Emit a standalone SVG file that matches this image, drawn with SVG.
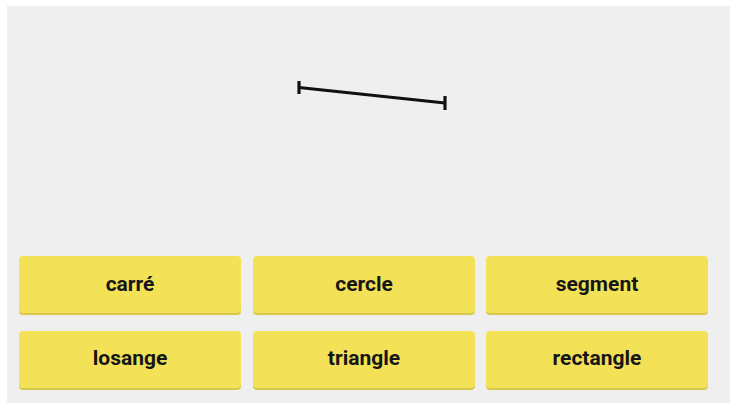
<svg xmlns="http://www.w3.org/2000/svg" width="736" height="403" viewBox="0 0 736 403">
  <defs>
    <style>
      .card rect.bg { fill: #f3e257; }
      .card rect.sh { fill: #d9c94a; }
      .card text { font-family: Roboto, "Liberation Sans", sans-serif; font-weight: bold; font-size: 21px; fill: #161616; text-anchor: middle; }
      .seg { stroke: #111111; stroke-width: 3.2; stroke-linecap: butt; fill: none; }
    </style>
  </defs>
  <rect x="0" y="0" width="736" height="403" fill="#ffffff"/>
  <rect x="7" y="6" width="723" height="397" fill="#efefef"/>

  <g id="segment-shape">
    <line class="seg" x1="299" y1="87.5" x2="445" y2="103"/>
    <line class="seg" x1="299" y1="81" x2="299" y2="94"/>
    <line class="seg" x1="445" y1="96" x2="445" y2="110"/>
  </g>

  <g id="card-carre" class="card">
    <rect class="sh" x="19" y="258" width="222" height="57" rx="4"/>
    <rect class="bg" x="19" y="256" width="222" height="57" rx="4"/>
    <text x="130" y="291">carré</text>
  </g>
  <g id="card-cercle" class="card">
    <rect class="sh" x="253" y="258" width="222" height="57" rx="4"/>
    <rect class="bg" x="253" y="256" width="222" height="57" rx="4"/>
    <text x="364" y="291">cercle</text>
  </g>
  <g id="card-segment" class="card">
    <rect class="sh" x="486" y="258" width="222" height="57" rx="4"/>
    <rect class="bg" x="486" y="256" width="222" height="57" rx="4"/>
    <text x="597" y="291">segment</text>
  </g>
  <g id="card-losange" class="card">
    <rect class="sh" x="19" y="333" width="222" height="57" rx="4"/>
    <rect class="bg" x="19" y="331" width="222" height="57" rx="4"/>
    <text x="130" y="365">losange</text>
  </g>
  <g id="card-triangle" class="card">
    <rect class="sh" x="253" y="333" width="222" height="57" rx="4"/>
    <rect class="bg" x="253" y="331" width="222" height="57" rx="4"/>
    <text x="364" y="365">triangle</text>
  </g>
  <g id="card-rectangle" class="card">
    <rect class="sh" x="486" y="333" width="222" height="57" rx="4"/>
    <rect class="bg" x="486" y="331" width="222" height="57" rx="4"/>
    <text x="597" y="365">rectangle</text>
  </g>
  <g id="connectors"/>
</svg>
